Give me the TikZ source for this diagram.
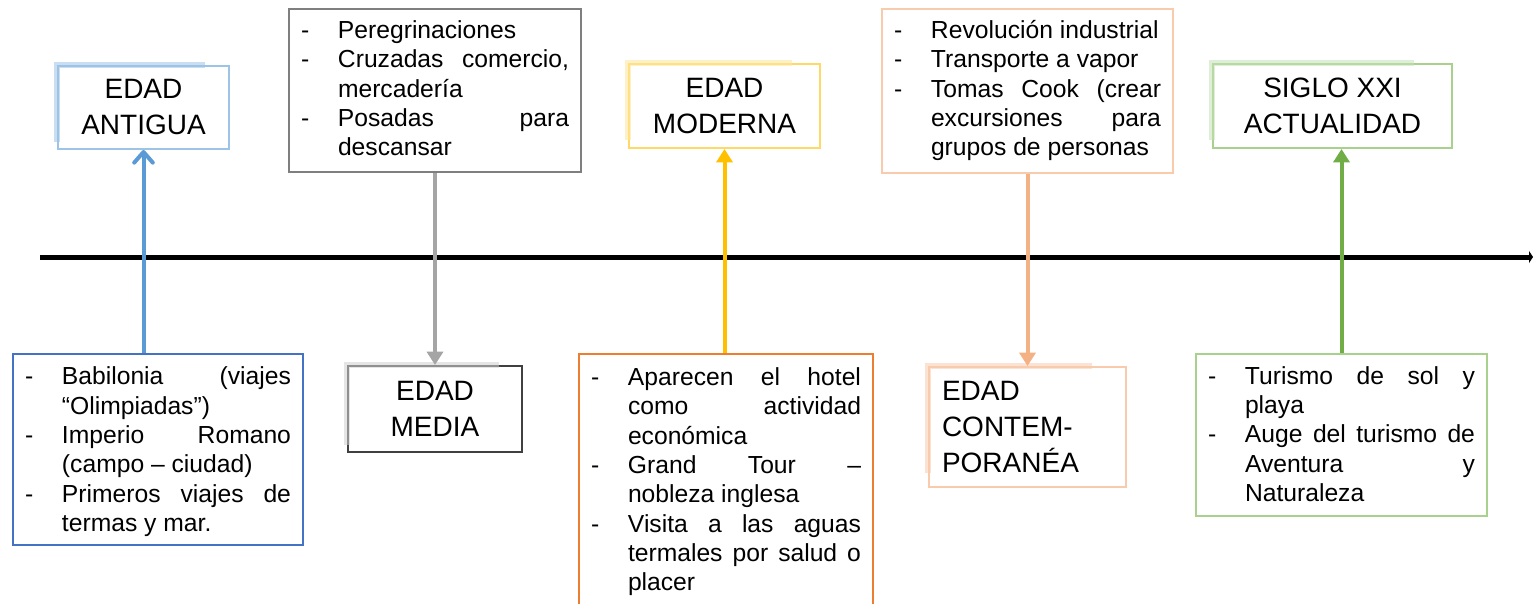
\documentclass[tikz,border=0pt]{standalone}
\usepackage{fontspec}
\setmainfont{Liberation Sans}
\usetikzlibrary{arrows.meta}

\definecolor{antiguaLine}{HTML}{9DC3E6}
\definecolor{antiguaDet}{HTML}{4472C4}
\definecolor{antiguaArrow}{HTML}{5B9BD5}
\definecolor{antiguaGlow}{HTML}{9DC3E6}
\definecolor{mediaLine}{HTML}{404040}
\definecolor{mediaDet}{HTML}{7F7F7F}
\definecolor{mediaArrow}{HTML}{A5A5A5}
\definecolor{mediaGlow}{HTML}{D0D0D0}
\definecolor{modernaLine}{HTML}{FFD966}
\definecolor{modernaDet}{HTML}{ED7D31}
\definecolor{modernaArrow}{HTML}{FFC000}
\definecolor{modernaGlow}{HTML}{FFE699}
\definecolor{contemLine}{HTML}{F8CBAD}
\definecolor{contemDet}{HTML}{F8CBAD}
\definecolor{contemArrow}{HTML}{F4B183}
\definecolor{contemGlow}{HTML}{F8CBAD}
\definecolor{sigloLine}{HTML}{A9D18E}
\definecolor{sigloDet}{HTML}{A9D18E}
\definecolor{sigloArrow}{HTML}{70AD47}
\definecolor{sigloGlow}{HTML}{C5E0B4}

\newcommand{\guion}{\par\noindent\hangindent=27.75pt\hangafter=1\makebox[27.75pt][l]{-}}
\newcommand{\fin}[1]{\par\kern#1\relax}

\begin{document}
\begin{tikzpicture}[x=0.75pt, y=-0.75pt, >=latex,
    detbox/.style={draw=#1, line width=1.5pt, anchor=north west, inner sep=0pt,
      align=justify, font=\fontsize{18.5pt}{22pt}\selectfont},
    titlebox/.style={draw=#1, line width=1.5pt, anchor=north west, inner sep=0pt,
      align=center, font=\fontsize{21pt}{27pt}\selectfont},
    glowband/.style={line width=4.5pt, opacity=0.55, line join=miter},
    conn/.style={line width=3pt, -{Triangle[length=10pt,width=12pt]}},
    barbconn/.style={line width=3pt, -{Straight Barb[length=8pt,width=14pt,round]}}]
  \useasboundingbox (0,0) rectangle (1533,603);
  \hbadness=10000 \hfuzz=20pt

  % Detail boxes
  \node[detbox=antiguaDet, text width=199.5pt, minimum width=217.5pt, minimum height=143.25pt]
    (antiguaD) at (12,353) {\guion Babilonia~(viajes \linebreak “Olimpiadas”)
    \guion Imperio~Romano \linebreak (campo~–~ciudad)
    \guion Primeros~viajes~de \linebreak termas~y~mar.\fin{5pt}};
  \node[detbox=mediaDet, text width=201pt, minimum width=219pt, minimum height=121.5pt]
    (mediaD) at (288,8) {\guion Peregrinaciones
    \guion Cruzadas~comercio, \linebreak mercadería
    \guion Posadas~para \linebreak descansar\fin{12pt}};
  \node[detbox=modernaDet, text width=202.5pt, minimum width=220.5pt, minimum height=189pt]
    (modernaD) at (578,353) {\guion Aparecen~el~hotel \linebreak como~actividad \linebreak económica
    \guion Grand~Tour~– \linebreak nobleza~inglesa
    \guion Visita~a~las~aguas \linebreak termales~por~salud~o \linebreak placer\fin{6pt}};
  \node[detbox=contemDet, text width=200.25pt, minimum width=218.25pt, minimum height=122.25pt]
    (contemD) at (881,8) {\guion Revolución~industrial
    \guion Transporte~a~vapor
    \guion Tomas~Cook~(crear \linebreak excursiones~para \linebreak grupos~de~personas\fin{9pt}};
  \node[detbox=sigloDet, text width=200.25pt, minimum width=218.25pt, minimum height=121.5pt]
    (sigloD) at (1195,353) {\guion Turismo~de~sol~y \linebreak playa
    \guion Auge~del~turismo~de \linebreak Aventura~y \linebreak Naturaleza\fin{10pt}};

  % Title boxes
  \node[titlebox=antiguaLine, minimum width=128.25pt, minimum height=62.25pt]
    (antigua) at (57,65) {EDAD\\ANTIGUA};
  \node[titlebox=mediaLine, minimum width=130.5pt, minimum height=64.5pt]
    (media) at (347,365) {EDAD\\MEDIA};
  \node[titlebox=modernaLine, minimum width=143.25pt, minimum height=63pt]
    (moderna) at (628,63) {EDAD\\MODERNA};
  \node[titlebox=contemLine, align=left, text width=128.25pt, minimum width=147.75pt, minimum height=90pt]
    (contem) at (928,366) {EDAD\\CONTEM-\\PORANÉA};
  \node[titlebox=sigloLine, minimum width=179.25pt, minimum height=63pt]
    (siglo) at (1212,63) {SIGLO XXI\\ACTUALIDAD};

  % Glow on the title boxes
  \foreach \n/\c/\dx/\dy in {antigua/antiguaGlow/19/6, media/mediaGlow/18/6,
      moderna/modernaGlow/22/7, contem/contemGlow/26/11, siglo/sigloGlow/29/7}
    \draw[glowband, \c] ([yshift=\dy pt]\n.south west) -- (\n.north west)
      -- ([xshift=-\dx pt]\n.north east);

  % Time line
  \coordinate (axisStart) at (40,257);
  \coordinate (axisEnd) at (1533,257);
  \draw[line width=3.75pt, -{Triangle[length=3pt,width=9pt]}] (axisStart) -- (axisEnd);

  % Arrows
  \foreach \x/\from/\to/\tip/\col in {antigua/antiguaD.north/antigua.south/barbconn/antiguaArrow,
      media/mediaD.south/media.north/conn/mediaArrow,
      moderna/modernaD.north/moderna.south/conn/modernaArrow,
      contem/contemD.south/contem.north/conn/contemArrow,
      sigloD/sigloD.north/siglo.south/conn/sigloArrow}
    \draw[\tip, color=\col] (\x.center |- \from) -- (\x.center |- \to);

\end{tikzpicture}
\end{document}
